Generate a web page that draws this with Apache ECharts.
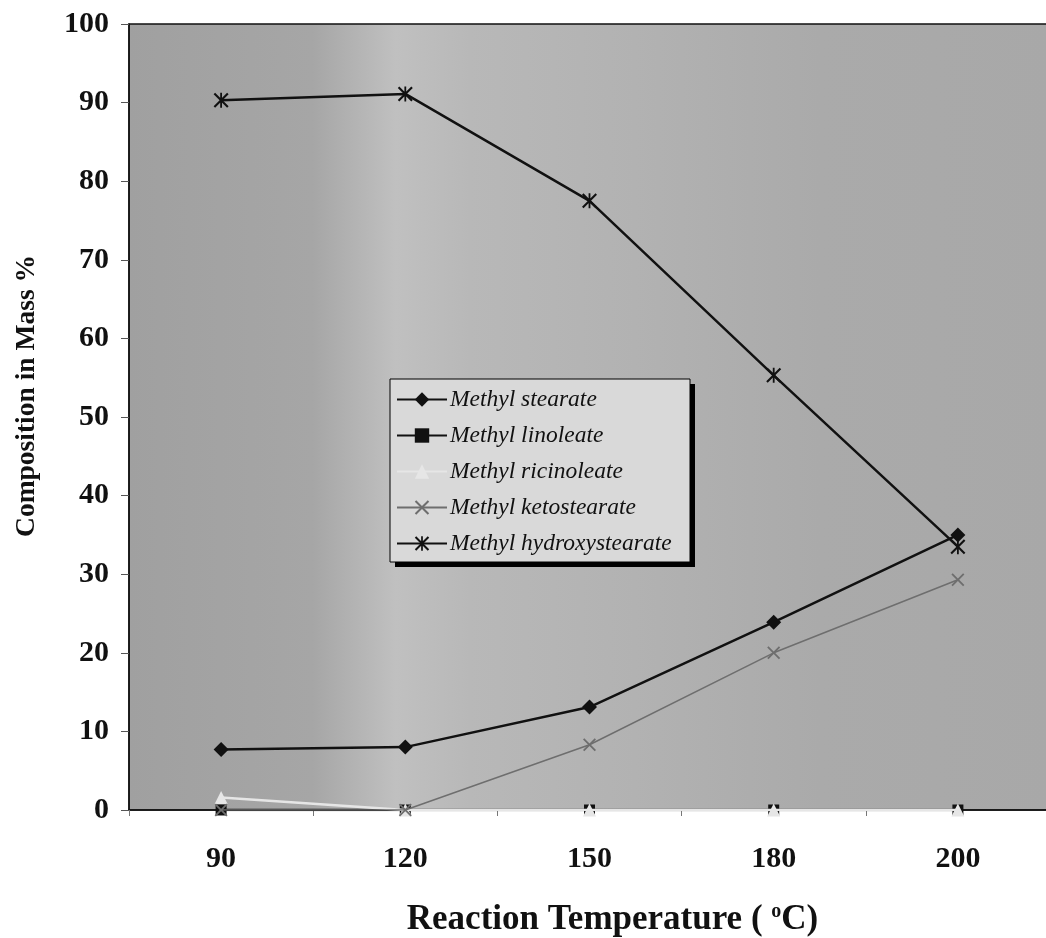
<!DOCTYPE html>
<html>
<head>
<meta charset="utf-8">
<script src="https://cdn.jsdelivr.net/npm/echarts@6/dist/echarts.min.js"></script>
<style>
html,body{margin:0;padding:0;background:#fff;}
#chart{width:1046px;height:938px;}
</style>
</head>
<body>
<div id="chart"></div>
<script>
// ---- data ----
var categories = ['90', '120', '150', '180', '200'];
var methylStearate = [7.7, 8.0, 13.1, 23.9, 35.0];
var methylLinoleate = [0, 0, 0, 0, 0];
var methylRicinoleate = [1.6, 0, 0, 0, 0];
var methylKetostearate = [0, 0, 8.3, 20.0, 29.3];
var methylHydroxystearate = [90.3, 91.1, 77.5, 55.3, 33.5];
var seriesNames = ['Methyl stearate', 'Methyl linoleate', 'Methyl ricinoleate', 'Methyl ketostearate', 'Methyl hydroxystearate'];
var yTicks = { min: 0, max: 100, interval: 10 };

var xShape = 'path://M0,1L1,0L5,4L9,0L10,1L6,5L10,9L9,10L5,6L1,10L0,9L4,5Z';
var starShape = 'path://M0,1L1,0L5,4L9,0L10,1L6,5L10,9L9,10L5,6L1,10L0,9L4,5Z M4.4,0L5.6,0L5.6,10L4.4,10Z';

var serif = '"Liberation Serif", "Times New Roman", serif';

var chart = echarts.init(document.getElementById('chart'), null, { renderer: 'canvas' });

function mk(name, data, color, lineW, symbol, size, z) {
  return {
    name: name, type: 'line', data: data, z: z,
    symbol: symbol, symbolSize: size, showSymbol: true,
    lineStyle: { color: color, width: lineW },
    itemStyle: { color: color },
    emphasis: { disabled: true },
    animation: false
  };
}

chart.setOption({
  animation: false,
  grid: {
    left: 129, top: 24, width: 921, bottom: 128,
    outerBoundsMode: 'none',
    containLabel: false,
    show: true,
    borderColor: '#111', borderWidth: 1.5,
    backgroundColor: {
      type: 'linear', x: 0, y: 0, x2: 1, y2: 0,
      colorStops: [
        { offset: 0, color: '#a0a0a0' },
        { offset: 0.2, color: '#a6a6a6' },
        { offset: 0.29, color: '#c0c0c0' },
        { offset: 0.37, color: '#b8b8b8' },
        { offset: 0.55, color: '#b2b2b2' },
        { offset: 0.75, color: '#aaaaaa' },
        { offset: 1, color: '#a8a8a8' }
      ]
    }
  },
  graphic: [
    { type: 'rect', z: 3, shape: { x: 395, y: 384, width: 300, height: 183 }, style: { fill: '#000' } },
    { type: 'rect', z: 3, shape: { x: 390, y: 379, width: 300, height: 183 }, style: { fill: '#d9d9d9', stroke: '#000', lineWidth: 1 } }
  ],
  legend: {
    orient: 'vertical',
    left: 390, top: 379,
    z: 10,
    data: seriesNames,
    itemWidth: 50, itemHeight: 18, itemGap: 13,
    padding: [9, 14, 6, 6],
    backgroundColor: 'transparent',
    borderWidth: 0,
    selectedMode: false,
    textStyle: { fontFamily: serif, fontStyle: 'italic', fontSize: 23.5, color: '#111', lineHeight: 23, padding: [0, 0, 0, -2] }
  },
  xAxis: {
    type: 'category',
    data: categories,
    boundaryGap: true,
    axisLine: { lineStyle: { color: '#111', width: 1.5 } },
    axisTick: { show: true, length: 6, lineStyle: { color: '#777' } },
    axisLabel: { margin: 34, fontFamily: serif, fontWeight: 'bold', fontSize: 30, color: '#111' },
    splitLine: { show: false },
    name: 'Reaction Temperature ( {sup|o}C)',
    nameLocation: 'middle',
    nameGap: 92,
    nameTextStyle: {
      fontFamily: serif, fontWeight: 'bold', fontSize: 35, color: '#111',
      padding: [0, 0, 0, 46],
      rich: { sup: { fontFamily: serif, fontSize: 20, verticalAlign: 'top', padding: [0, 0, 14, 0], color: '#111' } }
    }
  },
  yAxis: {
    type: 'value',
    min: yTicks.min, max: yTicks.max, interval: yTicks.interval,
    axisLine: { show: true, lineStyle: { color: '#111', width: 1.5 } },
    axisTick: { show: true, length: 8, lineStyle: { color: '#555' } },
    axisLabel: { margin: 20, fontFamily: serif, fontWeight: 'bold', fontSize: 30, color: '#111' },
    splitLine: { show: false },
    name: 'Composition in Mass %',
    nameLocation: 'middle',
    nameGap: 88,
    nameTextStyle: { fontFamily: serif, fontWeight: 'bold', fontSize: 27.5, color: '#111', padding: [0, 0, 0, 42] }
  },
  series: [
    mk(seriesNames[0], methylStearate, '#111', 2.5, 'diamond', 15, 3),
    mk(seriesNames[1], methylLinoleate, '#111', 2.5, 'rect', 11, 2),
    mk(seriesNames[2], methylRicinoleate, '#e6e6e6', 2.5, 'triangle', 13, 4),
    mk(seriesNames[3], methylKetostearate, '#6e6e6e', 1.5, xShape, 13, 5),
    mk(seriesNames[4], methylHydroxystearate, '#111', 2.5, starShape, 15, 6)
  ]
});
</script>
</body>
</html>
